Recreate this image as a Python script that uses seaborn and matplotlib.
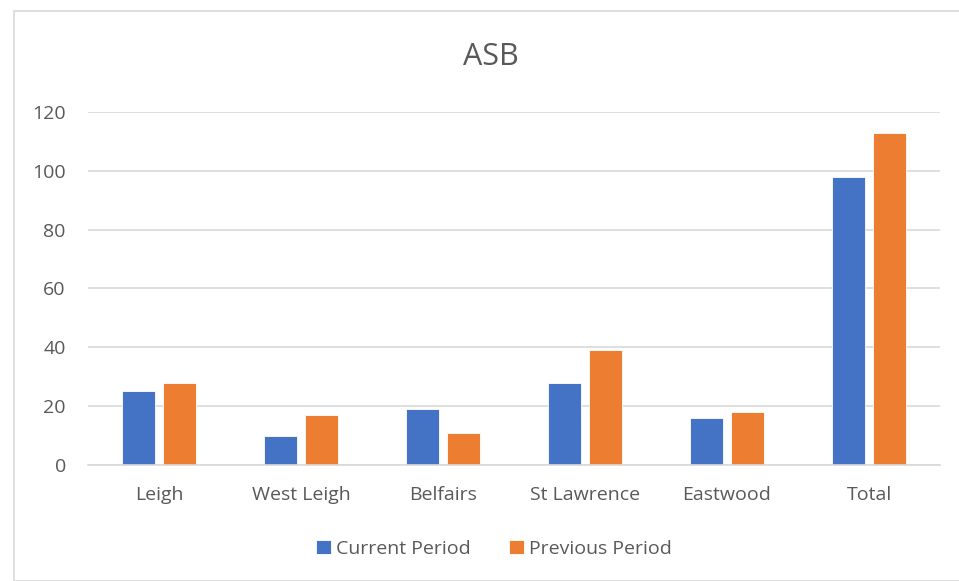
import pandas as pd
import matplotlib.pyplot as plt
import seaborn as sns
from matplotlib.patches import Rectangle

# chart data
areas = ["Leigh", "West Leigh", "Belfairs", "St Lawrence", "Eastwood", "Total"]
current_period = [25, 10, 19, 28, 16, 98]
previous_period = [28, 17, 11, 39, 18, 113]

df = pd.DataFrame({
    "Area": areas * 2,
    "Count": current_period + previous_period,
    "Period": ["Current Period"] * len(areas) + ["Previous Period"] * len(areas),
})

sns.set_theme(style="white")
plt.rcParams["font.family"] = ["Open Sans", "DejaVu Sans"]
text_col = "#595959"

fig = plt.figure(figsize=(9.59, 5.81), dpi=100)
ax = fig.add_axes([0.0918, 0.1997, 0.8884, 0.6075])

sns.barplot(data=df, x="Area", y="Count", hue="Period",
            palette=["#4472C4", "#ED7D31"], saturation=1, width=0.58, gap=0.2,
            edgecolor="white", linewidth=0.6, ax=ax, legend=True)

ax.set_ylim(0, 120)
ax.set_yticks(range(0, 121, 20))
ax.yaxis.grid(True, color="#d9d9d9", linewidth=1.2)
ax.set_axisbelow(True)
for s in ["top", "right", "left"]:
    ax.spines[s].set_visible(False)
ax.spines["bottom"].set_color("#d9d9d9")
ax.spines["bottom"].set_linewidth(1.2)
ax.set_xlabel("")
ax.set_ylabel("")
ax.tick_params(axis="both", length=0, labelsize=14, colors=text_col)
ax.tick_params(axis="y", pad=16)
ax.tick_params(axis="x", pad=15)

fig.text(0.512, 0.902, "ASB", ha="center", va="center", fontsize=22, color=text_col)

handles, labels = ax.get_legend_handles_labels()
ax.legend_.remove()
fig.legend(handles, labels, loc="center", bbox_to_anchor=(0.515, 0.055), ncol=2,
           frameon=False, fontsize=14, labelcolor=text_col,
           handlelength=0.75, handleheight=0.75, handletextpad=0.25, columnspacing=2.0)

fig.patches.append(Rectangle((14 / 959, 0.0), 1.2, 1 - 11 / 581, transform=fig.transFigure,
                             fill=False, edgecolor="#d9d9d9", linewidth=1.2))

fig.savefig("out.png", dpi=100, facecolor="white")
